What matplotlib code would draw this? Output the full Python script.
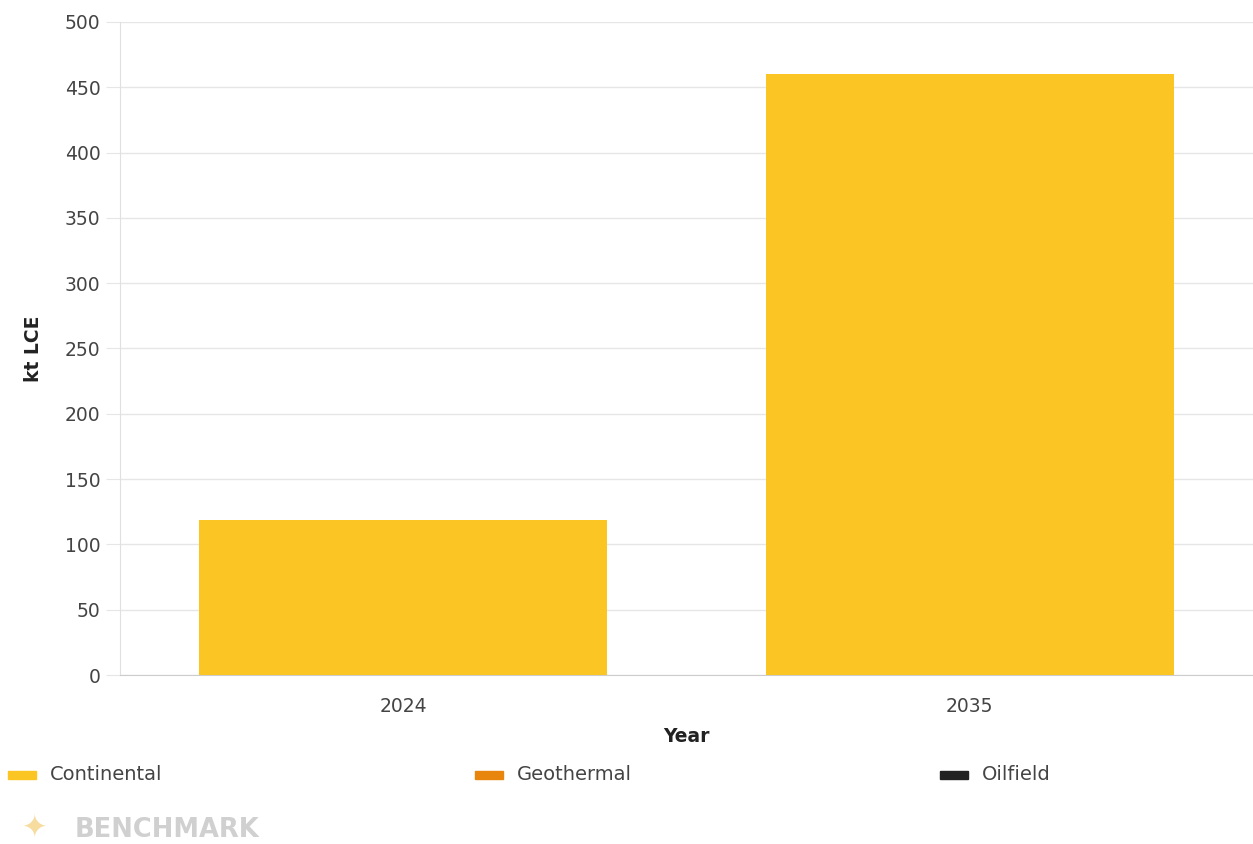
import matplotlib.pyplot as plt
from matplotlib.patches import Rectangle

years = ["2024", "2035"]
series = ["Continental", "Geothermal", "Oilfield"]
colors = ["#FBC523", "#E8850C", "#222222"]
continental = [119, 460]
geothermal = [0, 0]
oilfield = [0, 0]
values = [continental, geothermal, oilfield]

plt.rcParams['font.family'] = ['DejaVu Sans']

fig = plt.figure(figsize=(12.53, 8.44), dpi=100)
ax = fig.add_axes([0.0958, 0.2002, 0.9042, 0.7738])

x = list(range(len(years)))
bottom = [0] * len(years)
for name, vals, c in zip(series, values, colors):
    ax.bar(x, vals, width=0.72, bottom=bottom, color=c, label=name, zorder=3)
    bottom = [b + v for b, v in zip(bottom, vals)]

ax.set_xlim(-0.5, 1.5)
ax.set_ylim(0, 500)
ax.set_yticks(range(0, 501, 50))
ax.set_xticks(x)
ax.set_xticklabels(years)
ax.grid(axis='y', color='#e6e6e6', linewidth=1, zorder=0)
for s in ['top', 'right']:
    ax.spines[s].set_visible(False)
ax.spines['left'].set_color('#e0e0e0')
ax.spines['bottom'].set_color('#cccccc')
ax.tick_params(axis='y', length=10, color='#e6e6e6', labelsize=13.5, labelcolor='#444444', pad=4)
ax.tick_params(axis='x', length=0, labelsize=13.5, labelcolor='#444444', pad=16)
ax.set_ylabel("kt LCE", fontsize=13.5, fontweight='bold', color='#222222', labelpad=16)
ax.set_xlabel("Year", fontsize=13.5, fontweight='bold', color='#222222', labelpad=8)

# legend drawn by hand to match the wide spacing
legend_x = [8, 475, 940]
for lx, name, c in zip(legend_x, series, colors):
    fig.add_artist(Rectangle((lx / 1253, 1 - 779 / 844), 28 / 1253, 8 / 844,
                             transform=fig.transFigure, color=c))
    fig.text((lx + 42) / 1253, 1 - 775 / 844, name, fontsize=14, color='#444444',
             va='center', ha='left')

fig.text(75 / 1253, 1 - 830 / 844, "BENCHMARK", fontsize=18.5, fontweight='bold',
         color='#d0d0d0', va='center', ha='left')
fig.text(22 / 1253, 1 - 828 / 844, "✦", fontsize=22, color='#f7dca0',
         va='center', ha='left')

fig.savefig("out.png", dpi=100)
